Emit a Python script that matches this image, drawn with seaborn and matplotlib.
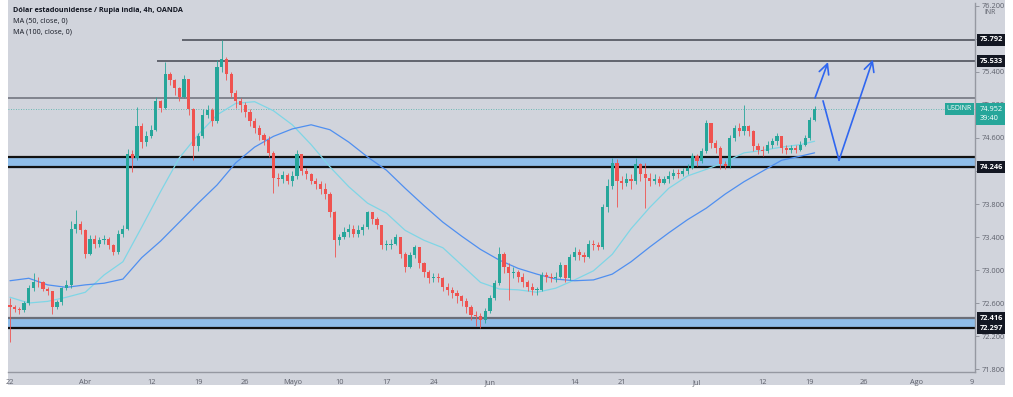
import numpy as np
import pandas as pd
import seaborn as sns
import matplotlib
matplotlib.use("Agg")
import matplotlib.pyplot as plt
import matplotlib.transforms as mtransforms
from matplotlib.patches import Rectangle
from matplotlib.ticker import FormatStrFormatter

# USD/INR, half-day candles (open = previous close)
first_open = 72.57
close = [72.55, 72.53, 72.51, 72.60, 72.78, 72.86, 72.85, 72.77, 72.74, 72.55,
         72.61, 72.78, 72.82, 73.50, 73.56, 73.48, 73.20, 73.38, 73.31, 73.36,
         73.38, 73.30, 73.22, 73.44, 73.50, 74.40, 74.36, 74.75, 74.55, 74.62,
         74.70, 75.05, 74.96, 75.38, 75.30, 75.20, 75.10, 75.32, 74.95, 74.50,
         74.62, 74.88, 74.94, 74.80, 75.46, 75.56, 75.38, 75.15, 75.05, 75.00,
         74.92, 74.80, 74.72, 74.64, 74.58, 74.42, 74.12, 74.10, 74.15, 74.08,
         74.14, 74.40, 74.20, 74.16, 74.08, 74.04, 73.98, 73.92, 73.70, 73.36,
         73.40, 73.46, 73.50, 73.44, 73.48, 73.52, 73.70, 73.62, 73.54, 73.30,
         73.30, 73.32, 73.40, 73.20, 73.04, 73.18, 73.28, 73.08, 72.98, 72.90,
         72.92, 72.90, 72.80, 72.76, 72.72, 72.68, 72.62, 72.55, 72.46, 72.44,
         72.40, 72.50, 72.66, 72.84, 73.20, 73.04, 72.96, 72.98, 72.92, 72.86,
         72.80, 72.76, 72.76, 72.94, 72.92, 72.90, 72.92, 73.06, 72.90, 73.16,
         73.22, 73.18, 73.16, 73.32, 73.30, 73.28, 73.76, 74.02, 74.30, 74.08,
         74.06, 74.10, 74.08, 74.28, 74.16, 74.12, 74.08, 74.10, 74.06, 74.10,
         74.14, 74.18, 74.16, 74.20, 74.24, 74.38, 74.32, 74.44, 74.78, 74.54,
         74.48, 74.28, 74.26, 74.60, 74.72, 74.68, 74.74, 74.68, 74.50, 74.46,
         74.44, 74.52, 74.56, 74.62, 74.48, 74.46, 74.48, 74.46, 74.52, 74.60,
         74.82, 74.952]
high = [72.66, 72.58, 72.55, 72.63, 72.82, 72.96, 72.92, 72.87, 72.80, 72.74,
        72.64, 72.80, 72.88, 73.60, 73.73, 73.60, 73.50, 73.43, 73.42, 73.40,
        73.42, 73.40, 73.32, 73.48, 73.54, 74.47, 74.46, 74.97, 74.78, 74.68,
        74.76, 75.10, 75.06, 75.52, 75.40, 75.32, 75.22, 75.36, 75.32, 74.96,
        74.66, 74.95, 75.00, 74.96, 75.55, 75.79, 75.58, 75.40, 75.18, 75.08,
        75.04, 74.95, 74.84, 74.76, 74.66, 74.62, 74.44, 74.18, 74.20, 74.18,
        74.20, 74.45, 74.40, 74.24, 74.18, 74.12, 74.08, 74.05, 73.94, 73.72,
        73.44, 73.52, 73.56, 73.54, 73.55, 73.56, 73.72, 73.70, 73.64, 73.55,
        73.36, 73.38, 73.44, 73.40, 73.22, 73.22, 73.30, 73.28, 73.10, 73.00,
        72.96, 72.96, 72.92, 72.84, 72.80, 72.76, 72.70, 72.66, 72.58, 72.50,
        72.48, 72.54, 72.70, 72.88, 73.28, 73.22, 73.08, 73.04, 73.00, 72.96,
        72.88, 72.84, 72.80, 72.98, 72.98, 72.96, 72.98, 73.10, 73.06, 73.20,
        73.28, 73.26, 73.22, 73.36, 73.36, 73.34, 73.80, 74.10, 74.36, 74.34,
        74.14, 74.18, 74.16, 74.36, 74.30, 74.30, 74.18, 74.16, 74.14, 74.14,
        74.20, 74.22, 74.22, 74.24, 74.28, 74.42, 74.40, 74.48, 74.82, 74.78,
        74.58, 74.50, 74.32, 74.64, 74.76, 74.78, 75.00, 74.76, 74.70, 74.54,
        74.50, 74.56, 74.60, 74.66, 74.62, 74.52, 74.52, 74.52, 74.56, 74.64,
        74.86, 74.99]
low = [72.13, 72.49, 72.47, 72.49, 72.58, 72.74, 72.80, 72.74, 72.70, 72.47,
       72.53, 72.58, 72.76, 72.78, 73.45, 73.44, 73.15, 73.18, 73.27, 73.28,
       73.32, 73.25, 73.18, 73.20, 73.40, 73.48, 74.19, 74.33, 74.48, 74.50,
       74.60, 74.68, 74.92, 74.95, 75.24, 75.12, 75.05, 75.08, 74.88, 74.33,
       74.44, 74.60, 74.84, 74.74, 74.78, 75.40, 75.30, 75.10, 74.96, 74.92,
       74.86, 74.74, 74.66, 74.58, 74.52, 74.37, 73.93, 74.02, 74.06, 74.04,
       74.02, 74.10, 74.15, 74.10, 74.04, 73.98, 73.92, 73.86, 73.64, 73.16,
       73.30, 73.38, 73.40, 73.40, 73.40, 73.42, 73.50, 73.56, 73.50, 73.26,
       73.24, 73.26, 73.30, 73.15, 72.98, 73.02, 73.14, 73.02, 72.92, 72.84,
       72.86, 72.86, 72.74, 72.70, 72.66, 72.60, 72.56, 72.48, 72.40, 72.32,
       72.30, 72.36, 72.48, 72.64, 72.82, 72.96, 72.64, 72.90, 72.86, 72.80,
       72.74, 72.70, 72.70, 72.74, 72.86, 72.85, 72.86, 72.90, 72.86, 72.88,
       73.12, 73.12, 73.10, 73.14, 73.24, 73.24, 73.26, 73.70, 73.98, 73.76,
       73.98, 74.02, 73.98, 74.04, 74.08, 73.75, 74.02, 74.04, 74.02, 74.04,
       74.06, 74.10, 74.12, 74.14, 74.16, 74.22, 74.26, 74.30, 74.42, 74.48,
       74.42, 74.22, 74.22, 74.24, 74.56, 74.62, 74.64, 74.62, 74.44, 74.40,
       74.38, 74.42, 74.48, 74.52, 74.42, 74.40, 74.42, 74.42, 74.44, 74.50,
       74.58, 74.80]

# moving averages read every 4th candle (plus the last one)
ma50 = [72.67, 72.60, 72.62, 72.67, 72.73, 72.94, 73.10, 73.52, 73.95, 74.36,
        74.64, 74.88, 75.02, 75.04, 74.93, 74.76, 74.52, 74.25, 74.01, 73.81,
        73.69, 73.48, 73.36, 73.27, 73.06, 72.85, 72.77, 72.76, 72.73, 72.78,
        72.88, 72.99, 73.19, 73.50, 73.76, 73.99, 74.14, 74.22, 74.31, 74.42,
        74.45, 74.49, 74.52, 74.56]
ma100 = [72.87, 72.90, 72.82, 72.79, 72.82, 72.84, 72.89, 73.15, 73.35, 73.58,
         73.81, 74.03, 74.30, 74.49, 74.62, 74.71, 74.76, 74.70, 74.55, 74.37,
         74.21, 73.99, 73.78, 73.58, 73.41, 73.25, 73.12, 73.02, 72.95, 72.89,
         72.87, 72.88, 72.95, 73.10, 73.28, 73.45, 73.61, 73.75, 73.92, 74.07,
         74.20, 74.33, 74.38, 74.42]

date_labels = ["22", "Abr", "12", "19", "26", "Mayo", "10", "17", "24", "Jun",
               "14", "21", "Jul", "12", "19", "26", "Ago", "9"]
date_pos = [0, 8, 15, 20, 25, 30, 35, 40, 45, 51, 60, 65, 73, 80, 85, 90.7, 96.3, 102.2]

res_top = 75.792
res_mid = 75.533
res_line = 75.085
zone_hi = (74.246, 74.373)
zone_lo = (72.297, 72.416)
last_price = 74.952

bg = "#d1d4dc"
up_c, dn_c = "#26a69a", "#ef5350"
grey_txt = "#5d606b"

sns.set_theme(style="white")
plt.rcParams["font.family"] = ["Open Sans", "DejaVu Sans"]

df = pd.DataFrame({"close": close, "high": high, "low": low})
df["open"] = df["close"].shift(1).fillna(first_open)
df["day"] = df.index * 0.5
df["col"] = np.where(df["close"] >= df["open"], up_c, dn_c)

ma_idx = list(range(0, len(close), 4)) + [len(close) - 1]
ma_df = pd.DataFrame({"day": np.array(ma_idx) * 0.5, "ma50": ma50, "ma100": ma100})

fig = plt.figure(figsize=(10.13, 3.97), dpi=100, facecolor="white")
panel = Rectangle((8 / 1013, 1 - 385 / 397), 997 / 1013, 385 / 397,
                  transform=fig.transFigure, fc=bg, ec="none", zorder=-5)
fig.patches.append(panel)
ax = fig.add_axes([8 / 1013, 1 - 372 / 397, 967 / 1013, 369 / 397])
ax.set_zorder(2)
ax.set_facecolor(bg)

# zones and levels
for lo_, hi_, top_c in [(*zone_hi, "#111111"), (*zone_lo, "#6b6e78")]:
    ax.axhspan(lo_, hi_, color="#8ebde9", zorder=1)
    ax.axhline(hi_, color=top_c, lw=1.6, zorder=1.5)
    ax.axhline(lo_, color="#111111", lw=1.6, zorder=1.5)
ax.hlines(res_top, 18.3, 102.6, color="#4f525c", lw=1.2, zorder=1.5)
ax.hlines(res_mid, 15.6, 102.6, color="#4f525c", lw=1.2, zorder=1.5)
ax.axhline(res_line, color="#6b6e78", lw=1.1, zorder=1.5)
ax.axhline(last_price, color=up_c, lw=0.6, ls=(0, (1, 2)), alpha=0.8, zorder=1.5)

# moving averages
sns.lineplot(data=ma_df, x="day", y="ma50", color="#7fd6e6", lw=0.9, ax=ax, zorder=2)
sns.lineplot(data=ma_df, x="day", y="ma100", color="#4f8ff0", lw=0.9, ax=ax, zorder=2)

# candles
ax.vlines(df["day"], df["low"], df["high"], colors=df["col"], lw=0.6, zorder=3)
body = df["close"] - df["open"]
body = np.where(body.abs() < 0.01, 0.01, body)
ax.bar(df["day"], body, bottom=df["open"], width=0.34, color=df["col"], lw=0, zorder=3)

# projection arrows
arr_c = "#2f66f0"
aprops = dict(arrowstyle="->,head_length=0.6,head_width=0.3", color=arr_c, lw=1.2,
              shrinkA=0, shrinkB=0)
ax.annotate("", xy=(86.93, 75.52), xytext=(85.55, 75.085), arrowprops=aprops, zorder=4)
ax.plot([86.4, 88.1], [75.05, 74.33], color=arr_c, lw=1.2, zorder=4)
ax.annotate("", xy=(91.7, 75.55), xytext=(88.1, 74.33), arrowprops=aprops, zorder=4)

ax.set_xlim(-0.21, 102.55)
ax.set_ylim(71.764, 76.236)
ax.set_xlabel("")
ax.set_ylabel("")

ax.set_xticks(date_pos)
ax.set_xticklabels(date_labels)
ax.set_yticks(np.arange(71.8, 76.21, 0.4))
ax.yaxis.set_major_formatter(FormatStrFormatter("%.3f"))
ax.yaxis.tick_right()
ax.tick_params(axis="both", length=3, width=0.6, color="#8a8d96", labelsize=5.3,
               labelcolor=grey_txt, pad=2)
for s in ["left", "top"]:
    ax.spines[s].set_visible(False)
for s in ["right", "bottom"]:
    ax.spines[s].set_color("#9598a1")
    ax.spines[s].set_linewidth(1.0)

# price tags on the scale
trans = mtransforms.blended_transform_factory(ax.transAxes, ax.transData)
for p in [res_top, res_mid, zone_hi[0], zone_lo[1], zone_lo[0]]:
    ax.text(1.0045, p, f"{p:.3f}", transform=trans, ha="left", va="center",
            fontsize=5.3, color="white", fontweight="bold", clip_on=False, zorder=6,
            bbox=dict(boxstyle="square,pad=0.35", fc="#131722", ec="none"))
ax.text(1.0045, last_price - 0.06, f"{last_price:.3f}\n39:40", transform=trans,
        ha="left", va="center", fontsize=5.3, color="white", linespacing=1.3,
        clip_on=False, zorder=6,
        bbox=dict(boxstyle="square,pad=0.4", fc=up_c, ec="none"))
ax.text(0.997, last_price, "USDINR", transform=trans, ha="right", va="center",
        fontsize=5, color="white", zorder=6,
        bbox=dict(boxstyle="square,pad=0.3", fc=up_c, ec="none"))
fig.text(990 / 1013, 1 - 13 / 397, "INR", fontsize=5, color=grey_txt,
         ha="center", va="center")

# header
fig.text(13 / 1013, 1 - 10 / 397, "Dólar estadounidense / Rupia india, 4h, OANDA",
         fontsize=5.2, fontweight="bold", color="#131722", va="center")
fig.text(13 / 1013, 1 - 21 / 397, "MA (50, close, 0)", fontsize=5.2,
         color="#131722", va="center")
fig.text(13 / 1013, 1 - 32 / 397, "MA (100, close, 0)", fontsize=5.2,
         color="#131722", va="center")

fig.savefig("out.png", dpi=100, facecolor="white")
